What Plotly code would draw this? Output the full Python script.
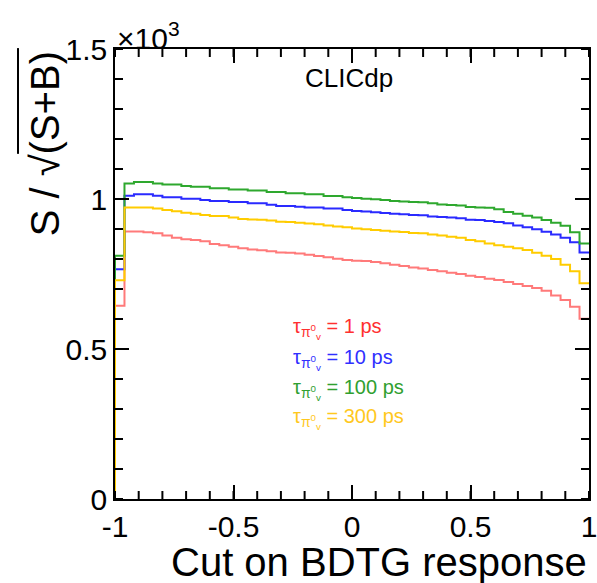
import numpy as np
import plotly.graph_objects as go

# Bin edges of the cut scan: 50 bins over the BDTG response range
edges = np.linspace(-1.0, 1.0, 51)

# S/sqrt(S+B) per cut value, one list per pi_v^0 lifetime hypothesis
signif_1ps = [644, 892, 892, 889, 886, 878, 871, 866, 863, 859,
              850, 846, 841, 836, 832, 829, 826, 822, 821, 818,
              814, 810, 806, 801, 797, 794, 793, 790, 786, 781,
              777, 772, 768, 763, 759, 754, 750, 744, 740, 734,
              730, 723, 717, 710, 703, 694, 678, 663, 641, 601]
signif_10ps = [766, 1011, 1016, 1016, 1011, 1006, 1006, 1001, 1001, 997,
               993, 993, 990, 990, 986, 986, 981, 977, 977, 974,
               972, 972, 968, 968, 963, 960, 958, 956, 953, 951,
               949, 947, 946, 942, 940, 938, 936, 931, 930, 927,
               923, 919, 912, 906, 899, 891, 882, 871, 856, 822]
signif_100ps = [811, 1052, 1057, 1057, 1052, 1048, 1048, 1043, 1041, 1041,
                1036, 1036, 1032, 1032, 1028, 1028, 1023, 1023, 1019, 1019,
                1016, 1016, 1010, 1010, 1006, 1003, 1001, 999, 997, 993,
                992, 990, 989, 986, 982, 980, 978, 973, 972, 971,
                966, 957, 951, 944, 938, 930, 921, 911, 889, 852]
signif_300ps = [729, 972, 972, 972, 968, 963, 959, 954, 951, 947,
                943, 943, 938, 933, 932, 931, 928, 924, 923, 921,
                918, 916, 912, 908, 906, 902, 899, 897, 894, 892,
                890, 887, 886, 882, 878, 874, 871, 863, 859, 852,
                846, 841, 836, 830, 821, 811, 800, 781, 759, 719]

labels = ["1 ps", "10 ps", "100 ps", "300 ps"]
series = [signif_1ps, signif_10ps, signif_100ps, signif_300ps]
line_colors = ["#ff7a7a", "#2a2aff", "#2ea82e", "#ffcc00"]
text_colors = ["#ff3030", "#3030ff", "#30a030", "#ffc81e"]

x_tickvals = [-1, -0.5, 0, 0.5, 1]
x_ticktext = ["-1", "-0.5", "0", "0.5", "1"]
y_tickvals = [0, 0.5, 1, 1.5]
y_ticktext = ["0", "0.5", "1", "1.5"]
x_minor = np.round(np.arange(-1.0, 1.0001, 0.1), 2)
y_minor = np.round(np.arange(0.0, 1.5001, 0.1), 2)

FONT = "Liberation Sans, Arial, sans-serif"
AX = "black"
MAJOR_LEN, MINOR_LEN = 14, 8

fig = go.Figure()
for vals, col, lab in zip(series, line_colors, labels):
    # histogram outline in units of 10^3: rises from zero at the left edge,
    # then steps bin by bin
    v = np.asarray(vals, dtype=float) / 1000.0
    xs = [edges[0]] + list(edges)
    ys = [0.0] + list(v) + [v[-1]]
    fig.add_trace(go.Scatter(x=xs, y=ys, mode="lines", line_shape="hv",
                             line=dict(color=col, width=2), name=lab,
                             hoverinfo="skip", showlegend=False))

frame = dict(showgrid=False, zeroline=False, showline=True,
             linecolor=AX, linewidth=1.5, mirror="ticks",
             ticks="inside", ticklen=MAJOR_LEN, tickwidth=2, tickcolor=AX,
             automargin=False, ticklabeloverflow="allow",
             tickfont=dict(family=FONT, size=30, color="black"))

fig.update_xaxes(range=[-1, 1], tickmode="array", tickvals=x_tickvals,
                 ticktext=x_ticktext, **frame)
fig.update_yaxes(range=[0, 1.5], tickmode="array", tickvals=y_tickvals,
                 ticktext=y_ticktext, **frame)

# short inward minor ticks on all four sides of the frame
tick_line = dict(color=AX, width=2)
shapes = []
for xv in x_minor:
    shapes.append(dict(type="line", xref="x", yref="paper", ysizemode="pixel",
                       yanchor=0, x0=xv, x1=xv, y0=0, y1=MINOR_LEN, line=tick_line))
    shapes.append(dict(type="line", xref="x", yref="paper", ysizemode="pixel",
                       yanchor=1, x0=xv, x1=xv, y0=0, y1=-MINOR_LEN, line=tick_line))
for yv in y_minor:
    shapes.append(dict(type="line", xref="paper", yref="y", xsizemode="pixel",
                       xanchor=0, x0=0, x1=MINOR_LEN, y0=yv, y1=yv, line=tick_line))
    shapes.append(dict(type="line", xref="paper", yref="y", xsizemode="pixel",
                       xanchor=1, x0=0, x1=-MINOR_LEN, y0=yv, y1=yv, line=tick_line))
# overline of the square root in the y-axis title
shapes.append(dict(type="line", xref="paper", yref="paper",
                   x0=-0.2046, x1=-0.2046, y0=1.002, y1=0.767,
                   line=dict(color="black", width=2)))

annotations = []
# x-axis title, right-aligned to the frame
annotations.append(dict(text="Cut on BDTG response", xref="paper", yref="paper",
                        x=1.0, y=-0.086, xanchor="right", yanchor="top",
                        showarrow=False, font=dict(family=FONT, size=40, color="black")))
# y-axis title, rotated, right-aligned to the top of the frame
annotations.append(dict(text="S / √(S+B)", xref="paper", yref="paper",
                        x=-0.148, y=1.0, xanchor="center", yanchor="top",
                        textangle=-90, showarrow=False,
                        font=dict(family=FONT, size=40, color="black")))
# exponent marker of the y axis
annotations.append(dict(text="×10<sup>3</sup>", xref="paper", yref="paper",
                        x=0.0, y=0.982, xanchor="left", yanchor="bottom",
                        showarrow=False, font=dict(family=FONT, size=30, color="black")))
annotations.append(dict(text="CLICdp", xref="paper", yref="paper",
                        x=0.493, y=0.935, xanchor="center", yanchor="middle",
                        showarrow=False, font=dict(family=FONT, size=26, color="black")))

# lifetime labels
row_y = [0.378, 0.311, 0.244, 0.178]
for lab, col, yy in zip(labels, text_colors, row_y):
    annotations.append(dict(text="τ<sub>π<sup>0</sup><sub>v</sub></sub> = " + lab,
                            xref="paper", yref="paper", x=0.372, y=yy,
                            xanchor="left", yanchor="middle", showarrow=False,
                            font=dict(family=FONT, size=20, color=col)))

fig.update_layout(
    width=597, height=583,
    margin=dict(l=115, r=8, t=49, b=84, autoexpand=False),
    paper_bgcolor="white", plot_bgcolor="white",
    annotations=annotations,
    shapes=shapes,
)

fig.write_html("out.html")
